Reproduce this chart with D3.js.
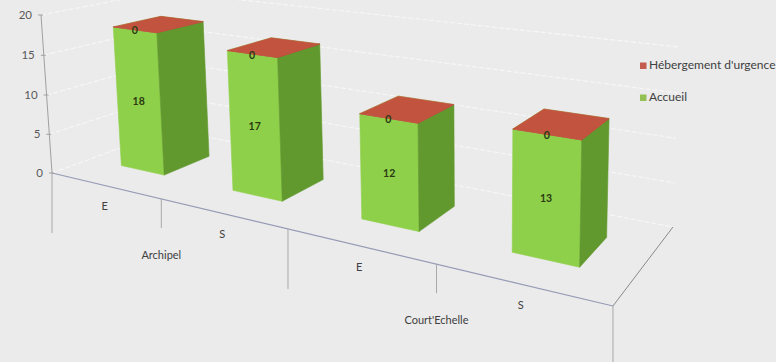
<!DOCTYPE html>
<html>
<head>
<meta charset="utf-8">
<script src="https://cdn.jsdelivr.net/npm/d3@7"></script>
<style>
  body { margin: 0; background: #ebebeb; }
  svg { display: block; }
</style>
</head>
<body>
<svg></svg>
<script>
const width = 776;
const height = 362;

// data
const groups = ["Archipel", "Court'Echelle"];
const subCategories = ["E", "S", "E", "S"];
const subGroup = [0, 0, 1, 1];
const accueil = [18, 17, 12, 13];
const hebergement = [0, 0, 0, 0];
const seriesKeys = ["accueil", "hebergement"];
const seriesNames = ["Accueil", "Hébergement d'urgence"];
const yTicks = [0, 5, 10, 15, 20];

const rows = subCategories.map((c, i) => ({ i: i, accueil: accueil[i], hebergement: hebergement[i] }));

// perspective camera fitted on the picture
// world: u along the categories (0..4), w depth (0 front .. 1 back), v height (0..1)
const cam = {
  x: [98.28, 142.5, -12.02, 52],
  y: [12.3, -24.0, -158.4, 173],
  d: [-0.06846, 0.147, -0.025, 1]
};
function project(u, w, v) {
  const d = cam.d[0] * u + cam.d[1] * w + cam.d[2] * v + cam.d[3];
  return [(cam.x[0] * u + cam.x[1] * w + cam.x[2] * v + cam.x[3]) / d,
          (cam.y[0] * u + cam.y[1] * w + cam.y[2] * v + cam.y[3]) / d];
}

const uBand = d3.scaleBand()
  .domain(d3.range(subCategories.length))
  .range([0, subCategories.length])
  .paddingInner(0.6)
  .paddingOuter(0.3);
const uEdge = d3.scaleLinear().domain([0, subCategories.length]).range([0, subCategories.length]);
const vScale = d3.scaleLinear().domain([0, 20]).range([0, 1]);
const depth = d3.scaleLinear().domain([0, 1]).range([0.3, 0.7]);   // bar depth inside the floor

const colors = {
  accueil: { front: "#8fd04a", side: "#62992f", top: "#8fd04a" },
  hebergement: { front: "#c0504d", side: "#9c3d30", top: "#c2533f" }
};
const legendColors = { accueil: "#92c053", hebergement: "#c55a4e" };

const font = "Lato, 'Open Sans', sans-serif";

const svg = d3.select("svg")
  .attr("width", width)
  .attr("height", height)
  .style("background", "#ebebeb");

const poly = d3.line();

// gridlines: left wall (u = 0) and back wall (w = 1)
const grid = svg.append("g")
  .attr("fill", "none")
  .attr("stroke", "#f7f7f7")
  .attr("stroke-width", 1.1)
  .attr("stroke-dasharray", "5,2");

grid.selectAll("path")
  .data(yTicks)
  .enter().append("path")
    .attr("d", t => poly([
      project(0, 0, vScale(t)),
      project(0, 1, vScale(t)),
      project(uEdge(4), 1, vScale(t))
    ]));

// floor right edge
svg.append("path")
  .attr("d", poly([project(uEdge(4), 0, 0), project(uEdge(4), 1, 0)]))
  .attr("stroke", "#8a8a8a")
  .attr("fill", "none");

// category axis (front floor edge)
svg.append("path")
  .attr("d", poly([project(uEdge(0), 0, 0), project(uEdge(4), 0, 0)]))
  .attr("stroke", "#959bb5")
  .attr("stroke-width", 1.2)
  .attr("fill", "none");

// category ticks: short between sub categories, long between groups
const tickEdges = d3.range(subCategories.length + 1);
svg.append("g")
  .selectAll("line")
  .data(tickEdges)
  .enter().append("line")
    .attr("x1", e => project(uEdge(e), 0, 0)[0])
    .attr("x2", e => project(uEdge(e), 0, 0)[0])
    .attr("y1", e => project(uEdge(e), 0, 0)[1])
    .attr("y2", e => project(uEdge(e), 0, 0)[1] + (e % 2 === 0 ? 60 : 29))
    .attr("stroke", "#a8a8a8")
    .attr("stroke-width", 1);

// value axis
svg.append("path")
  .attr("d", poly([project(0, 0, 0), project(0, 0, vScale(20))]))
  .attr("stroke", "#a0a0a0")
  .attr("fill", "none");

const yAxis = svg.append("g");
yAxis.selectAll("line")
  .data(yTicks)
  .enter().append("line")
    .attr("x1", t => project(0, 0, vScale(t))[0] - 3)
    .attr("x2", t => project(0, 0, vScale(t))[0] + 2)
    .attr("y1", t => project(0, 0, vScale(t))[1])
    .attr("y2", t => project(0, 0, vScale(t))[1])
    .attr("stroke", "#a0a0a0");
yAxis.selectAll("text")
  .data(yTicks)
  .enter().append("text")
    .attr("x", t => project(0, 0, vScale(t))[0] - 9)
    .attr("y", t => project(0, 0, vScale(t))[1] + 1)
    .attr("text-anchor", "end")
    .attr("dominant-baseline", "middle")
    .attr("font-family", font)
    .attr("font-size", 11.5)
    .attr("fill", "#595959")
    .text(t => t);

// sub category labels
svg.append("g")
  .selectAll("text")
  .data(subCategories)
  .enter().append("text")
    .attr("x", (c, i) => project(uEdge(i + 0.5), 0, 0)[0])
    .attr("y", (c, i) => project(uEdge(i + 0.5), 0, 0)[1] + 22)
    .attr("text-anchor", "middle")
    .attr("dominant-baseline", "middle")
    .attr("font-family", font)
    .attr("font-size", 11)
    .attr("fill", "#404040")
    .text(c => c);

// group labels
function groupCentre(gi) {
  const idx = subGroup.map((s, i) => s === gi ? i : -1).filter(i => i >= 0);
  return project(uEdge((d3.min(idx) + d3.max(idx) + 1) / 2), 0, 0);
}
svg.append("g")
  .selectAll("text")
  .data(groups)
  .enter().append("text")
    .attr("x", (g, gi) => groupCentre(gi)[0])
    .attr("y", (g, gi) => groupCentre(gi)[1] + 57)
    .attr("text-anchor", "middle")
    .attr("dominant-baseline", "middle")
    .attr("font-family", font)
    .attr("font-size", 11)
    .attr("fill", "#404040")
    .text(g => g);

// stacked 3D columns
const stack = d3.stack().keys(seriesKeys)(rows);
const segments = [];
rows.forEach((r, i) => {
  stack.forEach(layer => {
    const s = layer[i];
    segments.push({ key: layer.key, i: i, v0: vScale(s[0]), v1: vScale(s[1]), value: s[1] - s[0] });
  });
});

function faces(s) {
  const u0 = uBand(s.i), u1 = uBand(s.i) + uBand.bandwidth();
  const w0 = depth(0), w1 = depth(1);
  return [
    { kind: "front", pts: [[u0, w0, s.v0], [u1, w0, s.v0], [u1, w0, s.v1], [u0, w0, s.v1]] },
    { kind: "side", pts: [[u1, w0, s.v0], [u1, w1, s.v0], [u1, w1, s.v1], [u1, w0, s.v1]] },
    { kind: "top", pts: [[u0, w0, s.v1], [u1, w0, s.v1], [u1, w1, s.v1], [u0, w1, s.v1]] }
  ];
}

const bars = svg.append("g");
segments.forEach(s => {
  bars.append("g")
    .selectAll("path")
    .data(faces(s))
    .enter().append("path")
      .attr("d", f => poly(f.pts.map(p => project(p[0], p[1], p[2]))) + "Z")
      .attr("fill", f => colors[s.key][f.kind])
      .attr("stroke", f => colors[s.key][f.kind])
      .attr("stroke-width", 0.6)
      .attr("stroke-linejoin", "round");
});

// data labels at the centre of each front face
svg.append("g")
  .selectAll("text")
  .data(segments)
  .enter().append("text")
    .attr("x", s => project(uBand(s.i) + uBand.bandwidth() / 2, depth(0), (s.v0 + s.v1) / 2)[0])
    .attr("y", s => project(uBand(s.i) + uBand.bandwidth() / 2, depth(0), (s.v0 + s.v1) / 2)[1] + 2)
    .attr("text-anchor", "middle")
    .attr("dominant-baseline", "middle")
    .attr("font-family", font)
    .attr("font-size", 10.5)
    .attr("font-weight", "bold")
    .attr("fill", "#2a3b12")
    .text(s => s.value);

// legend
const legend = svg.append("g");
const legendItems = ["hebergement", "accueil"];
legendItems.forEach((k, j) => {
  const y = 66 + j * 32;
  legend.append("rect")
    .attr("x", 640).attr("y", y - 3.5)
    .attr("width", 6.5).attr("height", 6.5)
    .attr("fill", legendColors[k]);
  legend.append("text")
    .attr("x", 649).attr("y", y)
    .attr("dominant-baseline", "middle")
    .attr("font-family", font)
    .attr("font-size", 12)
    .attr("fill", "#404040")
    .text(seriesNames[seriesKeys.indexOf(k)]);
});
</script>
</body>
</html>
